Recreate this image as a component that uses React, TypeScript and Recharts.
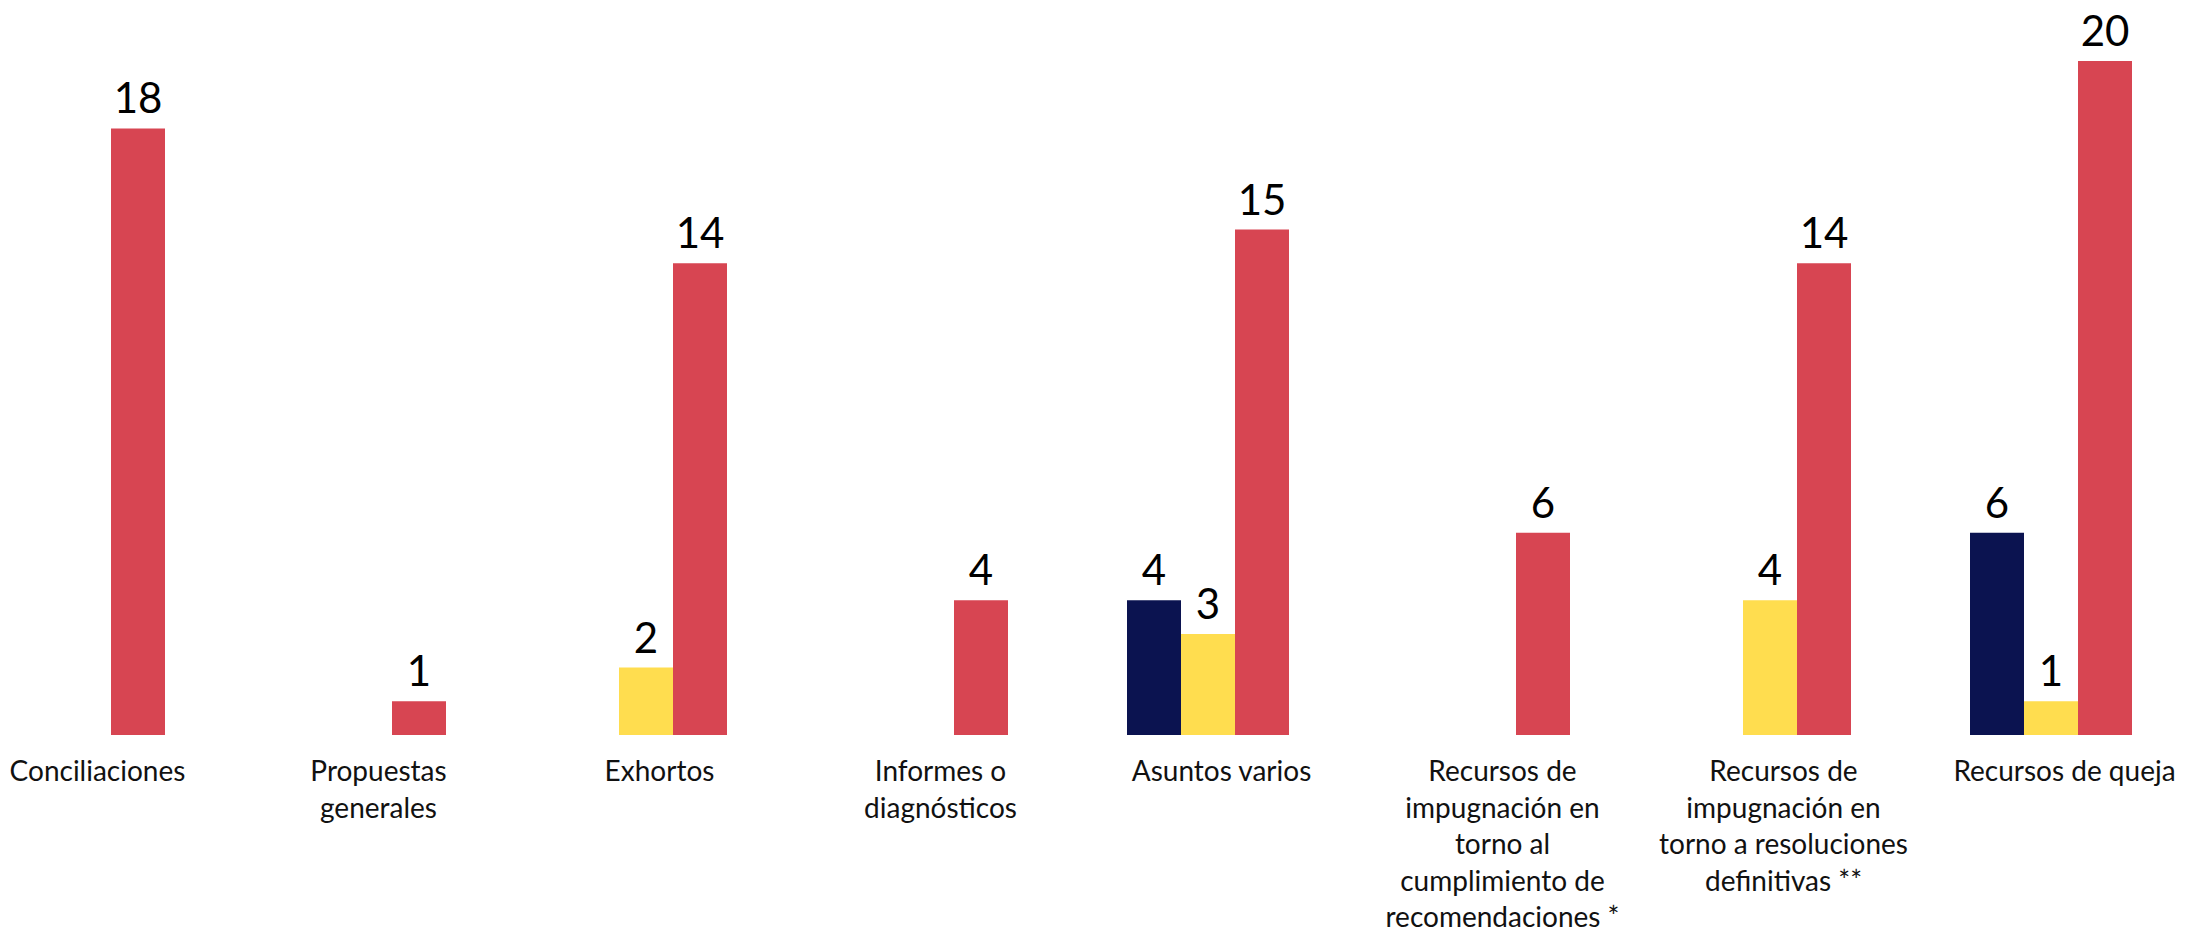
import React from "react";
import { BarChart, Bar, XAxis, YAxis, LabelList } from "recharts";

const categories = [
  ["Conciliaciones"],
  ["Propuestas", "generales"],
  ["Exhortos"],
  ["Informes o", "diagnósticos"],
  ["Asuntos varios"],
  ["Recursos de", "impugnación en", "torno al", "cumplimiento de", "recomendaciones *"],
  ["Recursos de", "impugnación en", "torno a resoluciones", "definitivas **"],
  ["Recursos de queja"],
];

const serieAzul = [null, null, null, null, 4, null, null, 6];
const serieAmarilla = [null, null, 2, null, 3, null, 4, 1];
const serieRoja = [18, 1, 14, 4, 15, 6, 14, 20];

const COLORS = { azul: "#0b1350", amarilla: "#ffdd4f", roja: "#d74552" };
const FONT = "Lato, 'Open Sans', sans-serif";

const data = categories.map((lines, i) => ({
  name: lines.join(" "),
  lines,
  azul: serieAzul[i],
  amarilla: serieAmarilla[i],
  roja: serieRoja[i],
}));

const CategoryTick = (props: any) => {
  const { x, y, payload } = props;
  const lines: string[] = data[payload.index]?.lines ?? [payload.value];
  return (
    <text x={x + 14} y={y + 38} textAnchor="middle" fill="#111" fontSize={28} fontFamily={FONT}>
      {lines.map((l, i) => (
        <tspan key={i} x={x + 14} dy={i === 0 ? 0 : 36.6}>
          {l}
        </tspan>
      ))}
    </text>
  );
};

const fmt = (v: any) => (v == null ? "" : v);

export default function App() {
  return (
    <div style={{ position: "absolute", left: 0, top: 0, width: 2187, height: 933, overflow: "hidden", background: "#fff" }}>
      <div style={{ position: "absolute", left: -57.5, top: 0 }}>
        <BarChart
          width={2248}
          height={933}
          data={data}
          margin={{ top: 61, right: 0, left: 0, bottom: 0 }}
          barGap={0}
          barSize={54}
        >
          <XAxis dataKey="name" axisLine={false} tickLine={false} interval={0} height={198} tick={<CategoryTick />} />
          <YAxis hide domain={[0, 20]} />
          <Bar dataKey="azul" fill={COLORS.azul} isAnimationActive={false}>
            <LabelList dataKey="azul" position="top" offset={15} formatter={fmt} fill="#000" fontSize={42} fontFamily={FONT} />
          </Bar>
          <Bar dataKey="amarilla" fill={COLORS.amarilla} isAnimationActive={false}>
            <LabelList dataKey="amarilla" position="top" offset={15} formatter={fmt} fill="#000" fontSize={42} fontFamily={FONT} />
          </Bar>
          <Bar dataKey="roja" fill={COLORS.roja} isAnimationActive={false}>
            <LabelList dataKey="roja" position="top" offset={15} formatter={fmt} fill="#000" fontSize={42} fontFamily={FONT} />
          </Bar>
        </BarChart>
      </div>
    </div>
  );
}
